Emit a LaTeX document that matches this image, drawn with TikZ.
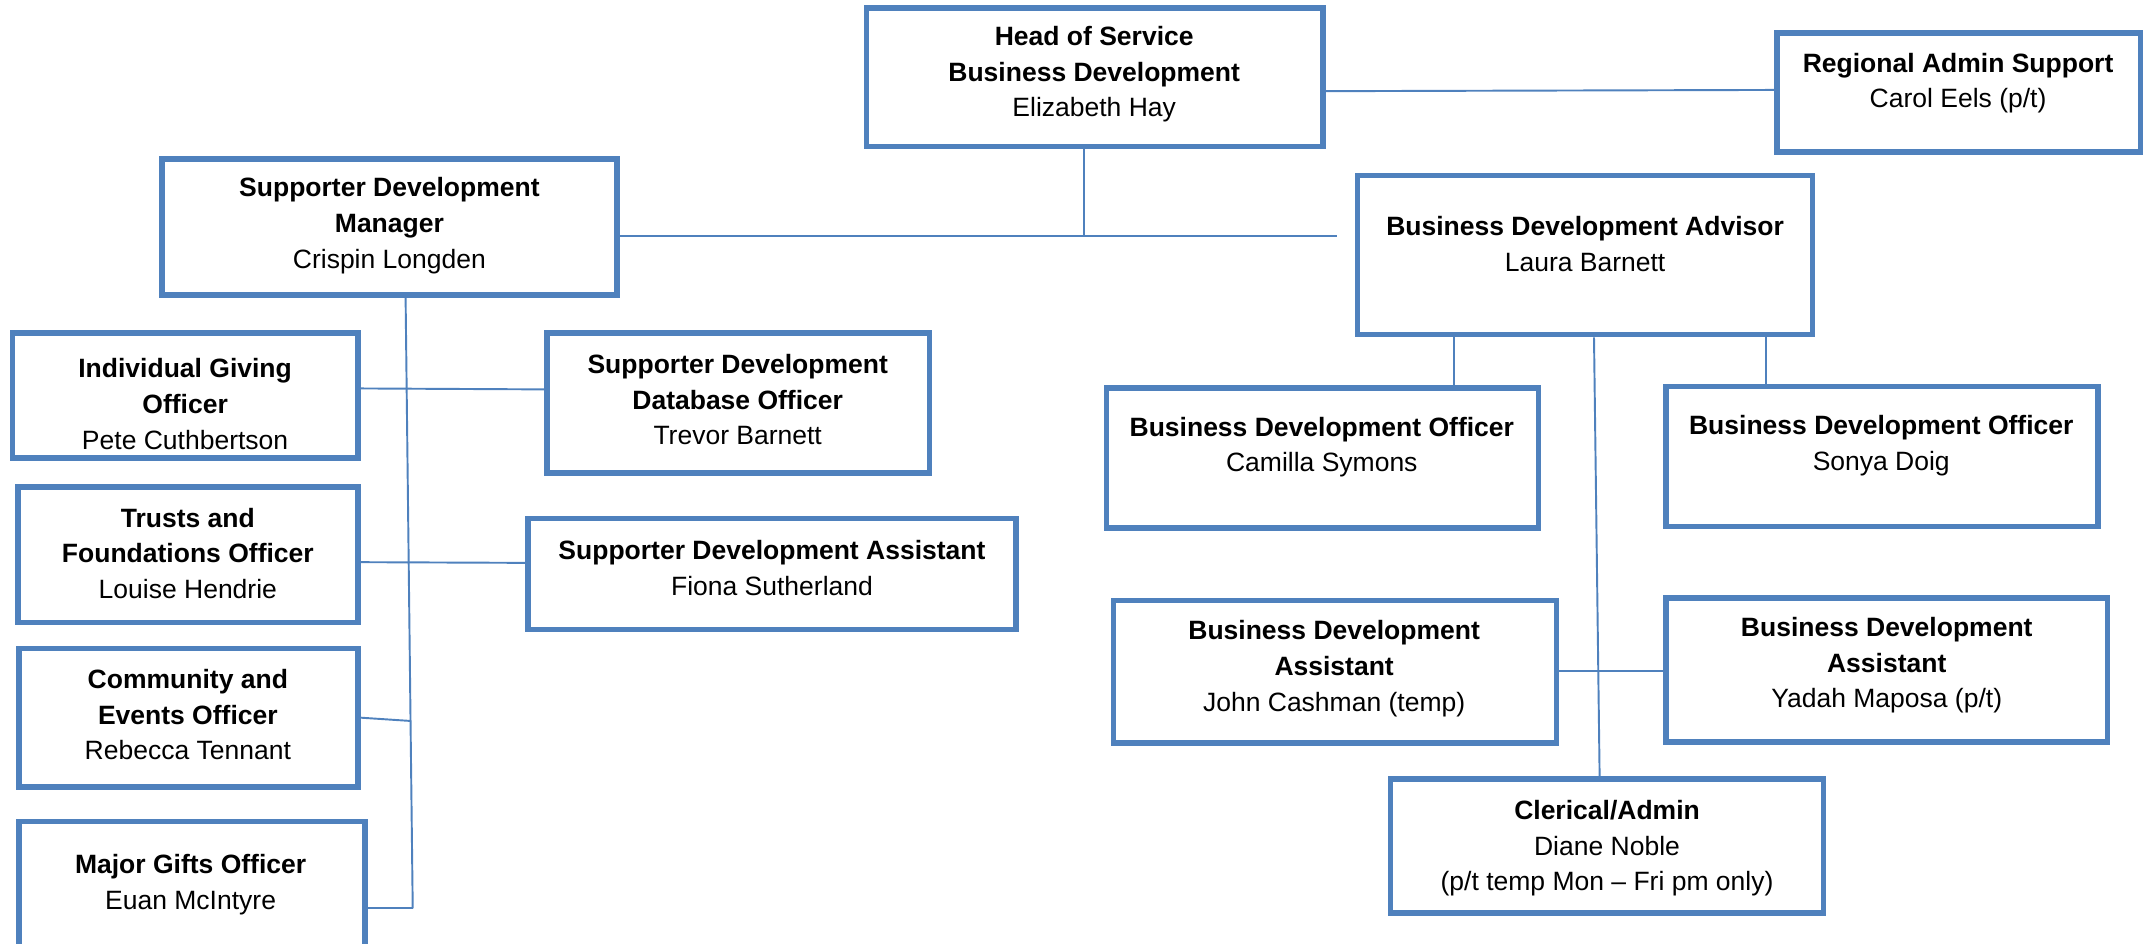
\documentclass[tikz,border=0pt]{standalone}
\usepackage{fontspec}
\setmainfont{Liberation Sans}
\usetikzlibrary{fit}
\definecolor{boxblue}{RGB}{79,129,189}

\begin{document}
\begin{tikzpicture}[x=0.02cm,y=-0.02cm,
	box/.style={draw=boxblue,line width=2.3pt,inner sep=0pt},
	link/.style={draw=boxblue,line width=0.8pt},
	txt/.style={align=center,inner sep=0pt,yshift=-1.2pt,font=\fontsize{11}{14.8}\selectfont}]
	\useasboundingbox (0,0) rectangle (1568,688);
	
	\foreach \n/\xa/\ya/\xb/\yb in {head/632/6/965/107, reg/1296/24/1561/111, sdm/118/116/450/215, adv/990/128/1322/244, igo/9/243/261/334, db/399/243/678/345, tfo/13/355/261/454, sda/385/378/741/459, ceo/14/473/261/574, mgo/14/599/266/720, bdoa/807/283/1122/385, bdob/1215/282/1530/384, bdaa/812/438/1135/542, bdab/1215/436/1537/541, cler/1014/568/1330/666}
	\node[box,fit={(\xa,\ya) (\xb,\yb)}] (\n) {};
	
	\node[txt] (headt) at (798,52) {\textbf{Head of Service}\\\textbf{Business Development}\\Elizabeth Hay};
	\node[txt] (regt) at (1428,58.5) {\textbf{Regional Admin Support}\\Carol Eels (p/t)};
	\node[txt] (sdmt) at (284,162.5) {\textbf{Supporter Development}\\\textbf{Manager}\\Crispin Longden};
	\node[txt] (advt) at (1156,176) {\textbf{Business Development Advisor}\\Laura Barnett};
	\node[txt] (igot) at (135,292.5) {\textbf{Individual Giving}\\\textbf{Officer}\\Pete Cuthbertson};
	\node[txt] (dbt) at (538,289.5) {\textbf{Supporter Development}\\\textbf{Database Officer}\\Trevor Barnett};
	\node[txt] (tfot) at (137,401.5) {\textbf{Trusts and}\\\textbf{Foundations Officer}\\Louise Hendrie};
	\node[txt] (sdat) at (563,412) {\textbf{Supporter Development Assistant}\\Fiona Sutherland};
	\node[txt] (ceot) at (137,519) {\textbf{Community and}\\\textbf{Events Officer}\\Rebecca Tennant};
	\node[txt] (mgot) at (139,643) {\textbf{Major Gifts Officer}\\Euan McIntyre};
	\node[txt] (bdoat) at (964,324) {\textbf{Business Development Officer}\\Camilla Symons};
	\node[txt] (bdobt) at (1372,323) {\textbf{Business Development Officer}\\Sonya Doig};
	\node[txt] (bdaat) at (973,485.5) {\textbf{Business Development}\\\textbf{Assistant}\\John Cashman (temp)};
	\node[txt] (bdabt) at (1376,483) {\textbf{Business Development}\\\textbf{Assistant}\\Yadah Maposa (p/t)};
	\node[txt] (clert) at (1172,616.5) {\textbf{Clerical/Admin}\\Diane Noble\\(p/t temp Mon – Fri pm only)};
	
	\coordinate (hj) at (790.6,171.8);
	\coordinate (aj) at (975,171.8);
	\coordinate (sj) at (301,662.4);
	\coordinate (cj) at (299.4,525.8);
	
	\draw[link] (head.east |- 0,66.5) -- (reg.west |- 0,65.6);
	\draw[link] (head.south -| hj) -- (hj);
	\draw[link] (sdm.east |- hj) -- (aj);
	\draw[link] (sdm.south -| 295.8,0) -- (sj);
	\draw[link] (igo.east |- 0,283.3) -- (db.west |- 0,284);
	\draw[link] (tfo.east |- 0,410) -- (sda.west |- 0,410.5);
	\draw[link] (ceo.east |- 0,523.4) -- (cj);
	\draw[link] (mgo.east |- sj) -- (sj);
	
	\draw[link] (adv.south -| 1060.2,0) -- (bdoa.north -| 1060.2,0);
	\draw[link] (adv.south -| 1287.9,0) -- (bdob.north -| 1287.9,0);
	\draw[link] (adv.south -| 1162.5,0) -- (cler.north -| 1166.6,0);
	\draw[link] (bdaa.east |- 0,489.4) -- (bdab.west |- 0,489.4);
\end{tikzpicture}
\end{document}
